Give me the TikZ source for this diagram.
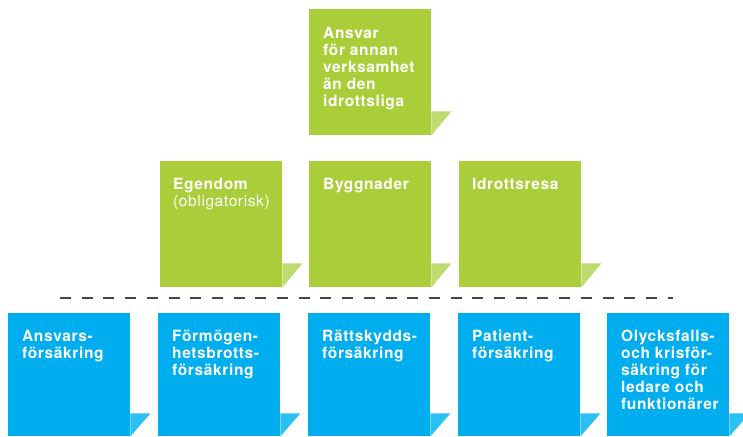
\documentclass[tikz,border=0pt]{standalone}
\usepackage{fontspec}
\setmainfont[LetterSpace=4]{TeX Gyre Heros}

\definecolor{limegreen}{HTML}{A9CE3A}
\definecolor{limelight}{HTML}{BFDA6E}
\definecolor{skyblue}{HTML}{00AEEF}
\definecolor{skylight}{HTML}{2BC0F2}
\definecolor{sepgray}{HTML}{454545}

\newcommand{\firstline}{\rule{0pt}{13pt}}

\tikzset{
  box/.style={anchor=north west, inner sep=0pt, minimum width=122pt},
  gbox/.style={box, fill=limegreen, minimum height=126pt},
  bbox/.style={box, fill=skyblue, minimum height=123pt},
  gtri/.style={fill=limelight},
  btri/.style={fill=skylight},
  boxtext/.style={anchor=north west, inner sep=0pt, text=white, align=left,
    font=\fontsize{15.5}{17}\selectfont\bfseries},
  sepline/.style={draw=sepgray, line width=1.3pt, dash pattern=on 11pt off 10.7pt}
}

\begin{document}
\begin{tikzpicture}[x=1pt,y=-1pt]
\useasboundingbox (0,0) rectangle (743,436);
% top row
\node[gbox] (ansvar) at (309,9) {};
% middle row
\node[gbox] (egendom) at (160,161) {};
\node[gbox] (byggnader) at (309,161) {};
\node[gbox] (idrottsresa) at (459,161) {};
% bottom row
\node[bbox] (ansvarsf) at (8,313) {};
\node[bbox] (formogen) at (158,313) {};
\node[bbox] (rattsskydd) at (308,313) {};
\node[bbox] (patient) at (458,313) {};
\node[bbox] (olycksfall) at (607,313) {};

% folded corners
\foreach \n in {ansvar,egendom,byggnader,idrottsresa}
  \fill[gtri] (\n.south east) -- ++(0,-24) -- ++(20,0) -- cycle;
\foreach \n in {ansvarsf,formogen,rattsskydd,patient,olycksfall}
  \fill[btri] (\n.south east) -- ++(0,-23) -- ++(20,0) -- cycle;

% texts
\node[boxtext] (ansvartxt) at ([xshift=14pt,yshift=-16pt]ansvar.north west)
  {\firstline Ansvar\\för annan\\verksamhet\\än den\\idrottsliga};
\node[boxtext] (egendomtxt) at ([xshift=13pt,yshift=-15pt]egendom.north west)
  {\firstline Egendom\\\mdseries(obligatorisk)};
\node[boxtext] (byggnadertxt) at ([xshift=14pt,yshift=-15pt]byggnader.north west)
  {\firstline Byggnader};
\node[boxtext] (idrottsresatxt) at ([xshift=13pt,yshift=-15pt]idrottsresa.north west)
  {\firstline Idrottsresa};
\node[boxtext] (ansvarsftxt) at ([xshift=14pt,yshift=-15pt]ansvarsf.north west)
  {\firstline Ansvars-\\försäkring};
\node[boxtext] (formogentxt) at ([xshift=14pt,yshift=-15pt]formogen.north west)
  {\firstline Förmögen-\\hetsbrotts-\\försäkring};
\node[boxtext] (rattsskyddtxt) at ([xshift=14pt,yshift=-15pt]rattsskydd.north west)
  {\firstline Rättskydds-\\försäkring};
\node[boxtext] (patienttxt) at ([xshift=14pt,yshift=-15pt]patient.north west)
  {\firstline Patient-\\försäkring};
\node[boxtext] (olycksfalltxt) at ([xshift=14pt,yshift=-15pt]olycksfall.north west)
  {\firstline Olycksfalls-\\och krisför-\\säkring för\\ledare och\\funktionärer};

% separator
\coordinate (sepL) at (60,298);
\coordinate (sepR) at (673,298);
\draw[sepline] (sepL) -- (sepR);
\end{tikzpicture}
\end{document}
